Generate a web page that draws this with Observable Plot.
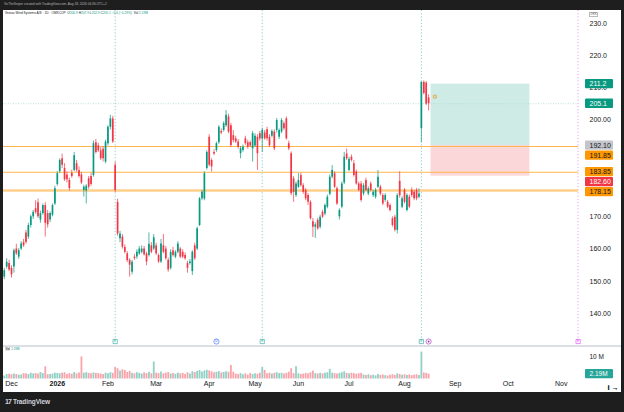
<!DOCTYPE html>
<html>
<head>
<meta charset="utf-8">
<script src="https://cdn.jsdelivr.net/npm/d3@7"></script>
<script src="https://cdn.jsdelivr.net/npm/@observablehq/plot@0.6"></script>
<style>
  html, body { margin: 0; padding: 0; background: #1e1e1e; }
  #root { position: relative; width: 624px; height: 412px; background: #1e1e1e; overflow: hidden; font-family: "Liberation Sans", Arial, sans-serif; }
  #pane { position: absolute; left: 3px; top: 10px; width: 618px; height: 382px; background: #ffffff; }
  #main { position: absolute; left: 3px; top: 10px; }
  #vol { position: absolute; left: 3px; top: 346px; }
  #sep { position: absolute; left: 3px; top: 345px; width: 618px; height: 1.5px; background: #dcdfe6; }
  .tiny { position: absolute; white-space: nowrap; line-height: 1; }
  .v { color: #089981; }
</style>
</head>
<body>
<div id="root">
  <div class="tiny" style="left:4px;top:3px;font-size:3.2px;color:#b8b8b8;">VicTheSniper created with TradingView.com, Aug 18, 2026 04:36 UTC+2</div>
  <div id="pane"></div>
  <div id="main"></div>
  <div id="sep"></div>
  <div id="vol"></div>
  <div class="tiny" style="left:5px;top:11.5px;font-size:3.2px;color:#131722;">Vestas Wind Systems A/S · 1D · OMXCOP&nbsp; O<span class="v">206.9</span> H<span class="v">207.9</span> L<span class="v">202.9</span> C<span class="v">205.1</span> <span class="v">−0.6 (−0.29%)</span>&nbsp; Vol <span class="v">2.19M</span></div>
  <div class="tiny" style="left:589px;top:11.5px;font-size:3px;color:#555;border:0.4px solid #bbb;padding:0.3px 0.6px;">DKK</div>
  <div class="tiny" style="left:5px;top:348px;font-size:3px;color:#131722;"><span style="background:#e8e8e8;padding:0 0.6px;">Vol</span> <span class="v">2.19M</span></div>
  <div class="tiny" style="left:5px;top:398px;font-size:6.5px;color:#d1d4dc;font-weight:bold;letter-spacing:-0.1px;"><span style="font-size:7px;letter-spacing:-0.8px;">17</span> TradingView</div>
</div>
<script>
// ---- data ----
const open = [
151.3,154.4,155.5,154.0,154.4,160.0,157.5,160.0,162.0,165.0,
163.7,167.3,170.0,172.5,174.4,169.0,171.0,173.5,171.0,169.0,
170.5,174.0,180.0,184.0,188.0,185.0,183.0,181.3,183.5,184.4,
186.5,184.4,183.0,178.2,178.0,181.8,182.5,182.8,193.0,192.0,
190.5,191.0,187.0,192.7,197.8,200.4,185.9,
174.5,163.2,163.7,
160.5,158.5,156.5,152.8,157.5,157.5,158.5,159.0,160.0,158.5,
158.0,161.0,160.0,161.0,158.0,156.0,161.0,160.0,156.5,154.0,
159.5,157.5,159.0,160.0,159.0,158.0,155.5,155.5,153.0,161.0,
160.0,167.3,175.6,175.5,185.0,194.7,187.5,190.0,190.6,193.0,
196.5,196.8,198.3,201.0,198.3,195.2,194.2,193.2,189.6,190.6,
194.2,193.0,193.0,191.1,192.0,194.7,195.8,194.2,196.0,197.0,
194.7,195.0,196.3,196.8,194.7,196.3,198.9,200.4,192.7,189.6,
181.8,176.6,179.2,182.8,179.7,178.2,176.6,174.5,
168.5,166.8,168.9,166.8,171.4,170.9,173.0,177.0,182.3,183.4,
178.7,170.0,173.0,180.5,189.5,184.4,188.5,186.5,183.9,180.2,
180.2,177.1,181.3,177.1,180.2,176.6,176.1,179.2,179.2,176.6,
175.1,174.5,173.5,169.4,169.9,165.8,181.0,173.0,178.2,172.0,
176.1,178.2,177.6,178.2,176.1,197.4,211.7,211.5,206.9
];
const high = [
154.0,157.0,156.5,154.8,160.0,161.5,160.2,162.3,163.0,165.8,
168.0,170.5,172.0,175.0,175.5,171.8,174.0,174.5,172.0,171.5,
174.0,179.5,184.0,188.0,189.5,186.5,184.0,182.0,184.5,190.0,
187.5,185.5,183.8,179.8,180.0,182.5,183.5,193.5,194.0,192.8,
191.5,191.8,193.8,198.3,201.5,201.2,187.0,
175.5,165.5,164.5,
161.3,159.2,157.0,156.5,158.3,159.8,160.8,161.0,160.8,159.0,
165.0,162.0,164.5,161.8,158.5,163.0,164.5,160.8,157.2,159.8,
160.5,159.5,162.3,160.5,159.8,158.8,156.2,156.8,159.5,161.8,
166.8,176.0,178.2,184.0,190.5,195.5,188.0,190.8,193.2,198.3,
197.3,199.5,203.0,201.8,199.0,196.8,195.0,194.0,191.8,192.3,
195.0,193.8,193.5,196.5,195.8,195.5,196.5,197.5,196.8,197.8,
195.5,197.0,197.0,200.5,197.3,200.5,199.5,201.0,193.5,190.2,
182.5,180.8,183.4,183.5,180.3,178.8,177.2,175.0,
169.5,168.2,169.5,170.5,172.0,174.0,176.8,183.0,185.9,184.0,
179.3,172.5,180.8,190.0,191.0,188.5,189.2,187.5,184.5,180.8,
181.0,180.3,182.0,179.3,180.8,178.2,178.8,184.4,179.8,177.2,
177.2,175.1,174.0,170.0,170.5,177.2,184.0,176.2,178.8,177.2,
176.8,179.0,178.2,178.8,178.7,212.0,212.2,212.0,207.9
];
const low = [
150.5,153.8,153.0,151.0,152.5,158.0,156.8,159.5,160.5,161.5,
163.0,166.5,169.2,170.8,169.5,168.0,170.5,163.7,166.5,168.2,
170.0,173.5,179.5,183.5,185.0,181.0,180.5,178.0,182.0,184.0,
183.8,182.0,180.0,176.1,174.0,178.5,179.5,182.3,189.5,190.0,
187.5,187.0,186.5,192.0,197.0,192.8,177.5,
164.0,162.0,160.0,
158.5,155.8,151.3,152.0,156.5,156.8,158.0,158.5,157.8,154.8,
157.5,158.5,159.5,158.0,155.5,155.5,158.5,156.5,152.8,153.5,
157.5,157.0,158.5,157.0,157.0,156.5,152.5,155.0,151.8,156.5,
159.5,167.0,175.0,175.0,184.5,185.5,183.9,189.0,190.0,192.5,
195.5,196.3,197.8,195.8,191.5,193.0,192.8,191.0,188.0,190.0,
192.2,191.0,191.5,187.0,191.5,184.4,193.5,190.0,193.8,193.5,
191.5,194.5,190.5,196.0,194.0,195.8,196.8,193.8,190.5,176.5,
174.5,176.0,178.8,179.2,177.0,175.0,173.5,169.0,
163.6,163.3,165.8,166.2,169.5,170.3,172.5,176.5,181.8,178.8,
173.5,169.0,172.5,180.0,187.5,184.0,187.0,182.3,179.8,177.8,
174.5,176.5,177.8,176.5,177.8,176.0,175.5,178.8,176.5,173.5,
174.5,172.5,171.5,166.8,165.3,164.7,175.8,172.5,174.0,171.5,
172.5,176.0,175.0,175.0,175.6,193.0,207.8,204.5,202.9
];
const close = [
153.3,155.9,153.5,152.0,159.5,158.5,159.5,161.6,161.0,162.0,
167.3,170.0,171.4,171.3,170.0,171.0,173.5,168.0,167.5,171.0,
173.5,178.7,183.4,187.5,186.0,181.5,181.5,178.8,182.5,189.0,
184.4,182.5,180.5,179.2,179.5,179.2,180.0,192.7,190.0,190.5,
188.0,188.0,193.2,197.8,200.4,193.2,178.2,
164.7,164.7,160.6,
159.0,156.4,155.0,155.9,157.0,159.0,160.0,160.0,158.2,156.0,
161.5,159.0,163.5,158.5,156.0,161.6,159.0,157.0,153.5,159.0,
158.0,159.0,161.6,157.5,157.5,157.0,154.0,156.0,159.0,157.0,
166.3,175.6,177.6,183.4,190.0,186.0,185.5,189.5,192.7,197.8,
196.0,198.9,201.5,196.3,192.1,193.7,193.2,191.6,191.1,191.6,
192.7,191.6,192.0,195.8,195.0,189.6,194.2,196.8,194.2,194.2,
192.1,196.5,191.1,199.9,196.8,199.9,197.3,194.2,191.1,177.2,
177.6,180.2,181.3,179.7,177.6,175.6,174.5,169.4,
166.8,167.5,166.3,169.9,169.9,173.5,176.1,182.3,184.4,179.2,
174.0,172.0,180.2,188.5,188.0,187.9,187.5,182.8,180.2,178.2,
175.1,179.7,178.2,178.7,178.2,177.6,178.2,182.3,177.1,174.0,
176.6,173.0,172.0,167.3,165.8,176.6,176.5,175.6,174.5,176.6,
173.0,176.6,175.6,175.6,177.1,211.7,208.3,205.0,205.1
];
// volume in millions
const volume = [
1.3,2.0,2.1,1.9,2.2,2.0,1.7,1.8,2.4,2.3,
2.0,2.6,2.3,2.4,2.2,2.9,2.4,
5.4,
1.9,2.0,2.2,2.6,2.5,2.3,2.6,2.8,2.0,2.4,2.1,2.9,2.3,2.7,
9.8,
2.6,2.8,2.5,2.3,2.7,2.5,2.4,2.2,2.0,2.6,2.3,2.8,2.5,
5.2,
4.6,3.6,4.1,3.8,
2.9,3.4,2.6,2.3,2.8,2.5,2.2,2.7,2.4,3.0,2.3,
7.6,
2.6,2.4,3.1,2.3,2.6,2.9,2.2,2.4,2.1,2.6,2.3,2.5,2.0,2.8,2.2,
3.2,2.9,3.4,3.8,3.1,3.6,3.9,3.6,3.2,2.8,3.0,
3.3,2.7,2.9,3.2,3.0,
6.0,
3.0,2.2,2.0,2.4,1.9,2.3,1.7,2.5,2.0,2.3,2.1,2.6,
5.2,
3.8,2.3,2.6,2.2,2.5,2.8,2.4,2.6,2.2,2.5,3.0,4.6,2.4,
5.5,
2.3,2.0,2.2,2.5,2.3,2.8,3.5,2.4,2.2,2.5,2.3,2.6,2.8,
4.3,
2.6,2.4,2.2,2.5,2.8,3.2,2.5,2.3,2.6,2.4,2.1,2.3,2.5,
1.8,1.6,1.9,1.5,1.7,1.4,2.0,1.6,1.8,1.5,1.3,1.7,1.9,1.6,2.3,2.0,1.7,1.9,1.6,1.8,1.5,1.7,1.9,1.6,
12.0,
2.7,2.5,2.19
];
// time axis (bar index of first trading day of each month)
const monthIdx = [3,22,43,63,85,104,122,143,166,187,209,231];
const monthLabels = ["Dec","2026","Feb","Mar","Apr","May","Jun","Jul","Aug","Sep","Oct","Nov"];
// price axis (180 and 190 are hidden under the level badges in the reference)
const yTicks = [140,150,160,170,200,210,220,230];
const yTickLabels = ["140.00","150.00","160.00","170.00","200.00","210.0","220.0","230.0"];
// drawings
const hLevels = [191.85, 183.85];
const hLevelWide = [178.15];
const lastPrice = 205.1;
const posStart = 177, posEnd = 218;
const posTarget = 211.2, posEntry = 192.1, posStop = 182.6;
const earningsIdx = [46, 107, 173];
const futureEarningsIdx = [238];
const dividendIdx = [88];
const splitIdx = [176];
const noteIcon = [{i: 178.6, p: 207.3}];
const badges = [
  {p: 211.2, t: "211.2", bg: "#089981", fg: "#ffffff"},
  {p: 205.1, t: "205.1", bg: "#089981", fg: "#ffffff"},
  {p: 192.10, t: "192.10", bg: "#c3c5cb", fg: "#131722"},
  {p: 191.85, t: "191.85", bg: "#ff9800", fg: "#131722"},
  {p: 183.85, t: "183.85", bg: "#ff9800", fg: "#131722"},
  {p: 182.60, t: "182.60", bg: "#f23645", fg: "#ffffff"},
  {p: 178.15, t: "178.15", bg: "#ff9800", fg: "#131722"}
];
const volNow = 2.19;
const volTick = 10;

// ---- build ----
const UP = "#089981", DN = "#f23645";
const N = close.length;
const bars = d3.range(N).map(i => ({i, o: open[i], h: high[i], l: low[i], c: close[i], v: volume[i]}));
const ups = bars.filter(d => d.c >= d.o), dns = bars.filter(d => d.c < d.o);

const W = 618, MR = 43;
const xDomain = [0, 238], xRange = [0.77, 574.6];
const yDomain = [140, 230], yRange = [303, 13];
const xs = d3.scaleLinear().domain(xDomain).range(xRange);
const ys = d3.scaleLinear().domain(yDomain).range(yRange);

// badge collision layout (push down)
const bh = 9.3, gap = 10;
const sorted = badges.map(b => ({...b, py: ys(b.p)})).sort((a, b) => a.py - b.py);
let prev = -Infinity;
for (const b of sorted) { b.py = Math.max(b.py, prev + gap); prev = b.py; }
const bx1 = xs.invert(582), bx2 = xs.invert(610), btx = xs.invert(586);
const badgeData = sorted.map(b => ({...b, y1: ys.invert(b.py - bh / 2), y2: ys.invert(b.py + bh / 2), yc: ys.invert(b.py)}));

const font = "'Liberation Sans', Arial, sans-serif";
const pos = [{s: posStart, e: posEnd, t: posTarget, en: posEntry, st: posStop}];

const main = Plot.plot({
  width: W, height: 336,
  marginLeft: 0, marginRight: MR, marginTop: 0, marginBottom: 0,
  style: {background: "transparent", fontFamily: font, color: "#131722", overflow: "visible"},
  x: {domain: xDomain, range: xRange, axis: null},
  y: {domain: yDomain, range: yRange, axis: null},
  marks: [
    Plot.rect(pos, {x1: "s", x2: "e", y1: "en", y2: "t", fill: "rgba(8,153,129,0.2)"}),
    Plot.rect(pos, {x1: "s", x2: "e", y1: "st", y2: "en", fill: "rgba(242,54,69,0.2)"}),
    Plot.ruleX(earningsIdx, {x: d => d, stroke: "#6cc4b7", strokeWidth: 0.8, strokeDasharray: "1.2,2"}),
    Plot.ruleX(futureEarningsIdx, {x: d => d, stroke: "#df8ef0", strokeWidth: 0.8, strokeDasharray: "1.2,2"}),
    Plot.ruleY([lastPrice], {y: d => d, stroke: "#a8dcd3", strokeWidth: 0.8, strokeDasharray: "1,1.5"}),
    Plot.ruleY(hLevelWide, {y: d => d, stroke: "#ffcf8a", strokeWidth: 2.4}),
    Plot.ruleY(hLevels, {y: d => d, stroke: "#ffb74d", strokeWidth: 1.1}),
    Plot.ruleX(ups, {x: "i", y1: "l", y2: "h", stroke: UP, strokeWidth: 0.7}),
    Plot.ruleX(dns, {x: "i", y1: "l", y2: "h", stroke: DN, strokeWidth: 0.7}),
    Plot.ruleX(ups, {x: "i", y1: "o", y2: "c", stroke: UP, strokeWidth: 1.7}),
    Plot.ruleX(dns, {x: "i", y1: "o", y2: "c", stroke: DN, strokeWidth: 1.7}),
    Plot.dot(noteIcon, {x: "i", y: "p", symbol: "square", r: 1.7, fill: "#f1d49a", stroke: "#caa04a", strokeWidth: 0.6}),
    // event markers along the bottom of the pane
    Plot.dot(earningsIdx, {x: d => d, frameAnchor: "bottom", dy: -5, symbol: "square", r: 2.4, fill: "#ffffff", stroke: "#26a69a", strokeWidth: 0.6}),
    Plot.text(earningsIdx, {x: d => d, frameAnchor: "bottom", dy: -5, text: () => "E", fontSize: 3.2, fill: "#26a69a"}),
    Plot.dot(futureEarningsIdx, {x: d => d, frameAnchor: "bottom", dy: -5, symbol: "square", r: 2.4, fill: "#ffffff", stroke: "#e040fb", strokeWidth: 0.6}),
    Plot.text(futureEarningsIdx, {x: d => d, frameAnchor: "bottom", dy: -5, text: () => "E", fontSize: 3.2, fill: "#e040fb"}),
    Plot.dot(dividendIdx, {x: d => d, frameAnchor: "bottom", dy: -5, r: 2.6, fill: "#ffffff", stroke: "#2962ff", strokeWidth: 0.6}),
    Plot.text(dividendIdx, {x: d => d, frameAnchor: "bottom", dy: -5, text: () => "D", fontSize: 3.2, fill: "#2962ff"}),
    Plot.dot(splitIdx, {x: d => d, frameAnchor: "bottom", dy: -5, r: 2.6, fill: "#ffffff", stroke: "#9c27b0", strokeWidth: 0.6}),
    Plot.dot(splitIdx, {x: d => d, frameAnchor: "bottom", dy: -5, r: 0.9, fill: "#9c27b0"}),
    Plot.axisY(yTicks, {anchor: "right", tickSize: 0, tickPadding: 11, textAnchor: "start", fontSize: 7,
      tickFormat: d => yTickLabels[yTicks.indexOf(d)]}),
    Plot.rect(badgeData, {x1: () => bx1, x2: () => bx2, y1: "y1", y2: "y2", fill: d => d.bg, rx: 1}),
    Plot.text(badgeData, {x: () => btx, y: "yc", text: "t", fill: d => d.fg, textAnchor: "start", fontSize: 7})
  ],
  color: {type: "identity"}
});
document.getElementById("main").appendChild(main);

// volume pane + time axis
const vDomain = [0, 10], vRange = [32.5, 10];
const vs = d3.scaleLinear().domain(vDomain).range(vRange);
const vBadge = [{v: volNow, t: "2.19M", y1: vs.invert(vs(volNow) - bh / 2), y2: vs.invert(vs(volNow) + bh / 2)}];
const normalIdx = monthIdx.filter((d, k) => monthLabels[k] !== "2026");
const yearIdx = monthIdx.filter((d, k) => monthLabels[k] === "2026");
const labelOf = d => monthLabels[monthIdx.indexOf(d)];

const vol = Plot.plot({
  width: W, height: 46,
  marginLeft: 0, marginRight: MR, marginTop: 0, marginBottom: 13,
  style: {background: "transparent", fontFamily: font, color: "#131722", overflow: "visible"},
  x: {domain: xDomain, range: xRange, axis: null},
  y: {domain: vDomain, range: vRange, axis: null},
  marks: [
    Plot.ruleX(ups, {x: "i", y1: 0, y2: "v", stroke: "rgba(8,153,129,0.45)", strokeWidth: 1.8}),
    Plot.ruleX(dns, {x: "i", y1: 0, y2: "v", stroke: "rgba(242,54,69,0.45)", strokeWidth: 1.8}),
    Plot.axisX(normalIdx, {anchor: "bottom", tickSize: 0, tickPadding: 2, fontSize: 7, tickFormat: labelOf}),
    Plot.axisX(yearIdx, {anchor: "bottom", tickSize: 0, tickPadding: 2, fontSize: 7, fontWeight: "bold", tickFormat: labelOf}),
    Plot.text([volTick], {x: () => btx, y: d => d, text: () => "10 M", textAnchor: "start", fontSize: 6.5, fill: "#131722"}),
    Plot.rect(vBadge, {x1: () => bx1, x2: () => bx2, y1: "y1", y2: "y2", fill: "#26a69a", rx: 1}),
    Plot.text(vBadge, {x: () => btx, y: "v", text: "t", textAnchor: "start", fontSize: 6.5, fill: "#ffffff"})
  ],
  color: {type: "identity"}
});
document.getElementById("vol").appendChild(vol);
</script>
</body>
</html>
